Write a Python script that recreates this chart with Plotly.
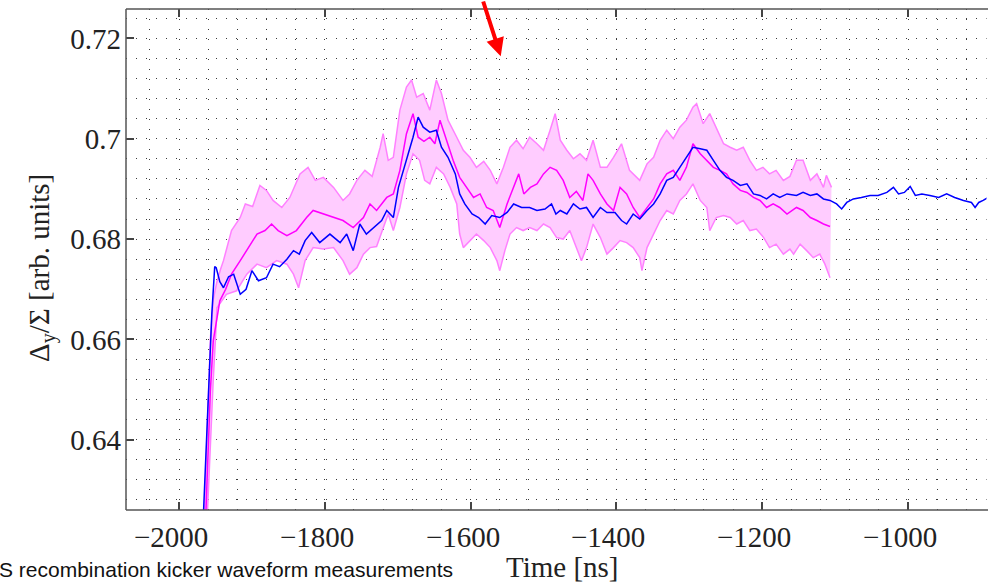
import plotly.graph_objects as go

# ---- data (time in ns, value in arb. units) ----
blue_pts = [(-1968,0.620),(-1962,0.640),(-1958,0.655),(-1955,0.665),(-1951,0.6745),(-1949,0.6743),(-1944,0.6715),
(-1939,0.6703),(-1932,0.6725),(-1925,0.6730),(-1916,0.6690),(-1908,0.6700),(-1900,0.6737),(-1891,0.6717),(-1880,0.6723),
(-1871,0.6750),(-1862,0.6745),(-1852,0.6760),(-1843,0.6777),(-1835,0.6770),(-1827,0.6797),(-1818,0.6813),(-1807,0.6793),
(-1793,0.6810),(-1779,0.6793),(-1770,0.6810),(-1761,0.6777),(-1752,0.6830),(-1743,0.6810),(-1733,0.6823),(-1722,0.6837),
(-1715,0.6857),(-1706,0.6843),(-1699,0.6903),(-1692,0.6937),(-1685,0.6970),(-1679,0.7003),(-1672,0.7043),(-1665,0.7023),
(-1656,0.7013),(-1647,0.7017),(-1640,0.6983),(-1631,0.6963),(-1621,0.6930),(-1615,0.6890),(-1608,0.6870),(-1598,0.6850),
(-1589,0.6843),(-1580,0.6830),(-1571,0.6847),(-1560,0.6843),(-1550,0.6853),(-1541,0.6870),(-1530,0.6863),(-1519,0.6863),
(-1509,0.6857),(-1498,0.6860),(-1489,0.6870),(-1483,0.6850),(-1477,0.6857),(-1468,0.6850),(-1459,0.6870),(-1450,0.6860),
(-1441,0.6863),(-1432,0.6843),(-1422,0.6863),(-1413,0.6853),(-1402,0.6853),(-1393,0.6837),(-1386,0.6830),(-1377,0.6850),
(-1368,0.6840),(-1358,0.6857),(-1349,0.6870),(-1340,0.6890),(-1331,0.6917),(-1322,0.6923),(-1313,0.6943),(-1304,0.6963),
(-1295,0.6983),(-1285,0.6980),(-1276,0.6977),(-1267,0.6957),(-1258,0.6937),(-1249,0.6923),(-1240,0.6917),(-1230,0.6907),
(-1221,0.6910),(-1212,0.6890),(-1203,0.6887),(-1194,0.6880),(-1185,0.6890),(-1176,0.6883),(-1166,0.6890),(-1153,0.6887),
(-1144,0.6893),(-1134,0.6887),(-1125,0.6890),(-1116,0.6880),(-1107,0.6877),(-1098,0.6870),(-1091,0.6860),(-1084,0.6873),
(-1075,0.6880),(-1064,0.6883),(-1052,0.6887),(-1041,0.6887),(-1029,0.6893),(-1020,0.6903),(-1013,0.6890),(-1005,0.6893),
(-997,0.6905),(-990,0.6887),(-981,0.6890),(-970,0.6887),(-958,0.6883),(-947,0.6890),(-936,0.6883),(-924,0.6877),
(-913,0.6873),(-908,0.6863),(-903,0.6873),(-897,0.6877),(-890,0.6883)]

magenta_mean_pts = [(-1964,0.622),(-1957,0.6497),(-1953,0.6597),(-1948,0.6647),(-1944,0.6677),(-1936,0.6700),(-1928,0.6730),
(-1916,0.6757),(-1905,0.6783),(-1893,0.6810),(-1882,0.6817),(-1873,0.6830),(-1864,0.6817),(-1852,0.6807),(-1839,0.6817),
(-1825,0.6843),(-1816,0.6857),(-1802,0.6850),(-1788,0.6843),(-1775,0.6837),(-1761,0.6823),(-1747,0.6843),(-1738,0.6870),
(-1729,0.6857),(-1715,0.6883),(-1706,0.6890),(-1697,0.6937),(-1688,0.7010),(-1679,0.7050),(-1672,0.7003),(-1664,0.6995),
(-1656,0.7003),(-1649,0.6990),(-1642,0.7037),(-1633,0.6997),(-1624,0.6957),(-1615,0.6923),(-1605,0.6903),(-1596,0.6883),
(-1587,0.6890),(-1578,0.6863),(-1569,0.6857),(-1560,0.6823),(-1550,0.6870),(-1541,0.6903),(-1534,0.6930),(-1527,0.6890),
(-1518,0.6903),(-1509,0.6910),(-1500,0.6930),(-1491,0.6943),(-1482,0.6937),(-1473,0.6917),(-1464,0.6883),(-1455,0.6895),
(-1446,0.6877),(-1439,0.6930),(-1432,0.6917),(-1422,0.6890),(-1413,0.6870),(-1404,0.6857),(-1395,0.6903),(-1386,0.6890),
(-1377,0.6863),(-1368,0.6843),(-1358,0.6863),(-1349,0.6880),(-1340,0.6910),(-1331,0.6930),(-1322,0.6937),(-1313,0.6917),
(-1304,0.6943),(-1295,0.6990),(-1285,0.6970),(-1276,0.6957),(-1267,0.6943),(-1258,0.6937),(-1249,0.6930),(-1240,0.6910),
(-1230,0.6897),(-1221,0.6893),(-1212,0.6883),(-1203,0.6877),(-1194,0.6863),(-1185,0.6870),(-1176,0.6863),(-1166,0.6850),
(-1153,0.6863),(-1144,0.6857),(-1134,0.6843),(-1125,0.6837),(-1116,0.6830),(-1107,0.6825)]

magenta_upper_pts = [(-1966,0.622),(-1961,0.645),(-1957,0.660),(-1953,0.668),(-1948,0.6715),(-1943,0.674),(-1939,0.6757),
(-1928,0.6817),(-1916,0.6843),(-1909,0.6870),(-1899,0.6865),(-1889,0.6907),(-1880,0.6897),(-1871,0.6877),(-1859,0.6863),
(-1848,0.6883),(-1834,0.6930),(-1823,0.6943),(-1813,0.6917),(-1802,0.6923),(-1788,0.6903),(-1775,0.6877),(-1766,0.6890),
(-1756,0.6917),(-1745,0.6937),(-1735,0.6925),(-1724,0.6983),(-1720,0.7010),(-1713,0.6957),(-1706,0.6963),(-1697,0.7057),
(-1688,0.7103),(-1681,0.7117),(-1674,0.7083),(-1665,0.7090),(-1656,0.7057),(-1647,0.7117),(-1640,0.7090),(-1631,0.7037),
(-1619,0.7003),(-1610,0.6977),(-1601,0.6963),(-1592,0.6943),(-1582,0.6955),(-1573,0.6937),(-1564,0.6910),(-1555,0.6943),
(-1546,0.6983),(-1537,0.6997),(-1528,0.6980),(-1519,0.7003),(-1509,0.6990),(-1500,0.6977),(-1491,0.7017),(-1484,0.7050),
(-1477,0.6997),(-1468,0.6977),(-1459,0.6960),(-1450,0.6970),(-1441,0.6957),(-1432,0.6997),(-1422,0.6943),(-1413,0.6943),
(-1404,0.6963),(-1393,0.6990),(-1382,0.6937),(-1368,0.6917),(-1358,0.6950),(-1349,0.6963),(-1340,0.6997),(-1331,0.7017),
(-1322,0.7000),(-1313,0.7023),(-1304,0.7037),(-1295,0.7063),(-1290,0.7070),(-1281,0.7030),(-1272,0.7050),(-1263,0.7023),
(-1253,0.6990),(-1244,0.6983),(-1235,0.6977),(-1226,0.6983),(-1217,0.6957),(-1208,0.6937),(-1199,0.6943),(-1190,0.6930),
(-1181,0.6937),(-1171,0.6917),(-1162,0.6925),(-1153,0.6957),(-1144,0.6957),(-1134,0.6917),(-1125,0.6930),(-1116,0.6903),
(-1112,0.6927),(-1105,0.6903)]

magenta_lower_pts = [(-1962,0.622),(-1957,0.640),(-1953,0.652),(-1950,0.660),(-1948,0.6663),(-1935,0.6690),(-1921,0.6697),
(-1907,0.6730),(-1893,0.6750),(-1880,0.6743),(-1866,0.6757),(-1852,0.6750),(-1843,0.6730),(-1836,0.6703),(-1827,0.6757),
(-1816,0.6783),(-1802,0.6780),(-1788,0.6783),(-1775,0.6757),(-1766,0.6730),(-1756,0.6743),(-1747,0.6770),(-1738,0.6783),
(-1729,0.6785),(-1720,0.6823),(-1713,0.6850),(-1706,0.6817),(-1697,0.6863),(-1688,0.6930),(-1679,0.6970),(-1670,0.6957),
(-1663,0.6917),(-1656,0.6910),(-1647,0.6943),(-1637,0.6930),(-1628,0.6903),(-1619,0.6870),(-1615,0.6810),(-1610,0.6783),
(-1601,0.6797),(-1592,0.6810),(-1582,0.6797),(-1573,0.6783),(-1564,0.6757),(-1560,0.6737),(-1553,0.6777),(-1546,0.6810),
(-1537,0.6823),(-1528,0.6817),(-1519,0.6823),(-1509,0.6817),(-1500,0.6830),(-1491,0.6823),(-1482,0.6803),(-1473,0.6800),
(-1464,0.6817),(-1455,0.6783),(-1448,0.6757),(-1441,0.6783),(-1432,0.6830),(-1422,0.6803),(-1413,0.6770),(-1404,0.6783),
(-1395,0.6797),(-1386,0.6793),(-1377,0.6783),(-1368,0.6763),(-1365,0.6737),(-1358,0.6783),(-1349,0.6810),(-1340,0.6837),
(-1331,0.6857),(-1322,0.6850),(-1313,0.6877),(-1304,0.6890),(-1295,0.6910),(-1285,0.6877),(-1276,0.6863),(-1272,0.6817),
(-1263,0.6843),(-1253,0.6847),(-1244,0.6843),(-1235,0.6830),(-1226,0.6837),(-1217,0.6817),(-1208,0.6820),(-1198,0.6803),
(-1190,0.6783),(-1181,0.6790),(-1171,0.6770),(-1162,0.6780),(-1157,0.6770),(-1148,0.6790),(-1139,0.6777),(-1130,0.6763),
(-1121,0.6770),(-1114,0.6750),(-1107,0.6723)]

x_tick_vals = [-2000, -1800, -1600, -1400, -1200, -1000]
x_tick_text = ["\u22122000", "\u22121800", "\u22121600", "\u22121400", "\u22121200", "\u22121000"]
y_tick_vals = [0.64, 0.66, 0.68, 0.70, 0.72]
y_tick_text = ["0.64", "0.66", "0.68", "0.7", "0.72"]

x_title = "Time [ns]"
y_title = "\u0394<sub>y</sub>/\u03a3 [arb. units]"
caption = "S recombination kicker waveform measurements"

def unzip(pts):
    return [p[0] for p in pts], [p[1] for p in pts]

bx, by = unzip(blue_pts)
mx, my = unzip(magenta_mean_pts)
ux, uy = unzip(magenta_upper_pts)
lx, ly = unzip(magenta_lower_pts)

fig = go.Figure()
fig.add_trace(go.Scatter(x=ux + lx[::-1], y=uy + ly[::-1], fill="toself", mode="none",
                         fillcolor="#ffccff", hoverinfo="skip", showlegend=False))
fig.add_trace(go.Scatter(x=ux, y=uy, mode="lines", line=dict(color="#ff80ff", width=1.5), showlegend=False))
fig.add_trace(go.Scatter(x=lx, y=ly, mode="lines", line=dict(color="#ff80ff", width=1.5), showlegend=False))
fig.add_trace(go.Scatter(x=mx, y=my, mode="lines", line=dict(color="#ff00ff", width=1.5), showlegend=False))
fig.add_trace(go.Scatter(x=bx, y=by, mode="lines", line=dict(color="#0000ff", width=1.5), showlegend=False))

serif = "Liberation Serif, Times New Roman, serif"
grid_dash = "1px,9px"
grid_col = "#3a3a3a"
axis_col = "#555555"
txt_col = "#222222"

fig.update_layout(
    width=988, height=583,
    margin=dict(l=126, r=0, t=9, b=73),
    paper_bgcolor="white", plot_bgcolor="white",
    font=dict(family=serif, size=29, color=txt_col),
    showlegend=False,
    xaxis=dict(range=[-2072.7, -890.3], tickvals=x_tick_vals, showticklabels=False,
               ticks="inside", ticklen=8, tickwidth=1.5, tickcolor="#444444",
               showline=False, mirror="ticks",
               showgrid=True, gridcolor=grid_col, gridwidth=1, griddash=grid_dash,
               minor=dict(dtick=40, tick0=-2000, showgrid=True, gridcolor=grid_col, gridwidth=1, griddash=grid_dash),
               zeroline=False),
    yaxis=dict(range=[0.626, 0.72586], tickvals=y_tick_vals, ticktext=y_tick_text,
               ticks="inside", ticklen=8, tickwidth=1.5, tickcolor="#444444",
               showline=False, mirror=False,
               showgrid=True, gridcolor=grid_col, gridwidth=1, griddash=grid_dash,
               minor=dict(dtick=0.004, tick0=0.64, showgrid=True, gridcolor=grid_col, gridwidth=1, griddash=grid_dash),
               zeroline=False, ticklabelstandoff=4,
               tickfont=dict(family=serif, size=29, color=txt_col)),
)

# x tick labels placed precisely below the axis
for tv, tt in zip(x_tick_vals, x_tick_text):
    fig.add_annotation(text=tt, x=tv, xref="x", y=(510 - 537) / 501, yref="paper",
                       xanchor="center", yanchor="middle", xshift=-8, showarrow=False,
                       font=dict(family=serif, size=29, color=txt_col))

fig.add_shape(type="rect", xref="paper", yref="paper", x0=(986.5 - 126) / 862, x1=1.02, y0=-0.02, y1=1.02,
              line=dict(width=0), fillcolor="white", layer="above")
for x0, y0, x1, y1 in [(0, 0, 0, 1), (0, 0, 1, 0), (0, 1, 1, 1)]:
    fig.add_shape(type="line", xref="paper", yref="paper", x0=x0, y0=y0, x1=x1, y1=y1,
                  line=dict(color=axis_col, width=1.5), layer="above")

fig.add_annotation(text=x_title, xref="paper", yref="paper", x=(562 - 126) / 862, y=(510 - 567) / 501,
                   xanchor="center", yanchor="middle", showarrow=False,
                   font=dict(family=serif, size=29, color=txt_col))
fig.add_annotation(text=y_title, xref="paper", yref="paper", x=(41 - 126) / 862, y=(510 - 268) / 501,
                   xanchor="center", yanchor="middle", showarrow=False, textangle=-90,
                   font=dict(family=serif, size=29, color=txt_col))
fig.add_annotation(text=caption, xref="paper", yref="paper", x=(-3 - 126) / 862, y=(510 - 569) / 501,
                   xanchor="left", yanchor="middle", showarrow=False,
                   font=dict(family="Liberation Sans, Arial, sans-serif", size=21, color="#111111"))
fig.add_annotation(x=-1558.7, y=0.71646, xref="x", yref="y", text="", showarrow=True,
                   ax=-18, ay=-59, arrowcolor="#ff0000", arrowwidth=4, arrowhead=2, arrowsize=0.9)

fig.write_html("out.html")
